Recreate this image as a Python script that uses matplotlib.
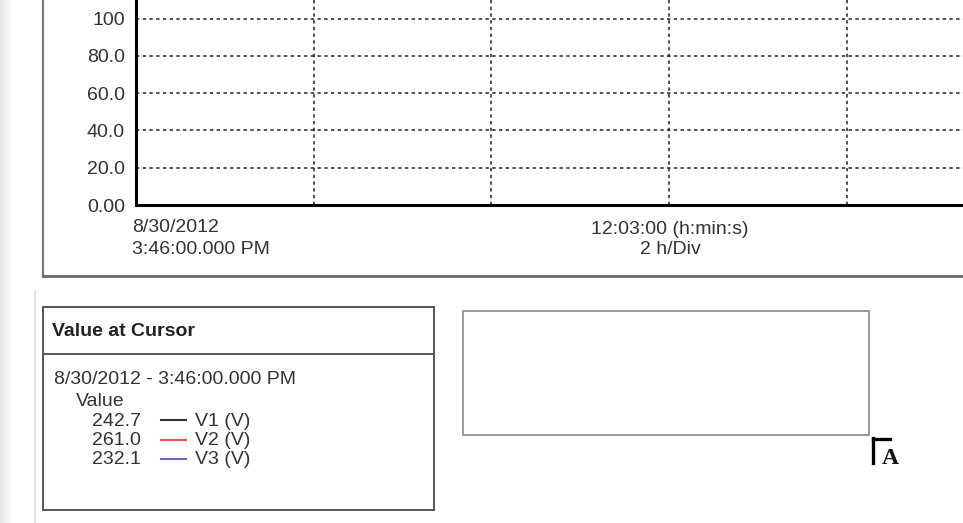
import matplotlib
matplotlib.use("Agg")
import matplotlib.pyplot as plt
from matplotlib.lines import Line2D
from matplotlib.patches import Rectangle

# ---- data ----
y_ticks = [0, 20, 40, 60, 80, 100]
y_tick_labels = ["0.00", "20.0", "40.0", "60.0", "80.0", "100"]
x_div_hours = [2, 4, 6, 8]           # 2 h/Div gridlines
x_start_label = "8/30/2012\n3:46:00.000 PM"
x_span_label = "12:03:00 (h:min:s)"
x_div_label = "2 h/Div"
cursor_time = "8/30/2012 - 3:46:00.000 PM"
series_names = ["V1 (V)", "V2 (V)", "V3 (V)"]
series_values = [242.7, 261.0, 232.1]
series_colors = ["#333333", "#e05555", "#6a6ac8"]

W, H = 963, 523
plt.rcParams['font.family'] = ['Liberation Sans', 'DejaVu Sans']
FS = 14
TXT = "#333333"
fig = plt.figure(figsize=(W / 100, H / 100), dpi=100)
fig.patch.set_facecolor("white")


def fx(x):
    return x / W


def fy(y):
    return 1 - y / H


def ftext(x, y, s, **kw):
    fig.text(fx(x), fy(y), s, **kw)


def fline(xs, ys, **kw):
    fig.add_artist(Line2D([fx(v) for v in xs], [fy(v) for v in ys],
                          transform=fig.transFigure, **kw))


def frect(x0, y0, x1, y1, **kw):
    fig.add_artist(Rectangle((fx(x0), fy(y1)), fx(x1) - fx(x0), fy(y0) - fy(y1),
                             transform=fig.transFigure, fill=False, **kw))


# left shadow
for i, a in enumerate([0.10, 0.08, 0.06, 0.045, 0.03, 0.02]):
    fig.add_artist(Rectangle((fx(i * 2), 0), fx(2), 1, transform=fig.transFigure,
                             facecolor="black", alpha=a, edgecolor="none"))

# ---- chart axes ----
ax_left, ax_bottom = 136, 205
ax = fig.add_axes([fx(ax_left), fy(ax_bottom), fx(W - ax_left), ax_bottom / H])
ax.set_facecolor("white")
px_per_div = 177.7
ax.set_xlim(0, (W - ax_left) / px_per_div * 2)
ax.set_ylim(0, 110)
ax.set_yticks(y_ticks)
ax.set_yticklabels(y_tick_labels)
ax.set_xticks(x_div_hours)
ax.set_xticklabels([])
ax.tick_params(axis="both", length=0, labelsize=FS, colors=TXT)
ax.tick_params(axis="y", pad=8)
for s in ["top", "right"]:
    ax.spines[s].set_visible(False)
for s in ["left", "bottom"]:
    ax.spines[s].set_linewidth(2.2)
    ax.spines[s].set_color("black")
for v in y_ticks[1:]:
    ax.axhline(v, color="#222222", lw=1.1, ls=(0, (2.2, 2.2)), zorder=1)
for v in x_div_hours:
    ax.axvline(v, color="#222222", lw=1.1, ls=(0, (2.2, 2.2)), zorder=1)

# x labels
l1, l2 = x_start_label.split("\n")
ftext(132, 228, l1, fontsize=FS, color=TXT, va="center", ha="left")
ftext(132, 249, l2, fontsize=FS, color=TXT, va="center", ha="left")
ftext(670, 229, x_span_label, fontsize=FS, color=TXT, va="center", ha="center")
ftext(670, 250, x_div_label, fontsize=FS, color=TXT, va="center", ha="center")

# chart panel frame
fline([43, 43], [0, 276], color="#777777", lw=1.6)
fline([43, W], [275.5, 275.5], color="#666666", lw=2.0)
fline([35, 35], [290, H], color="#dddddd", lw=1.2)

# ---- Value at Cursor box ----
frect(43, 307, 434, 510, edgecolor="#555555", lw=1.4)
fline([43, 434], [354, 354], color="#555555", lw=1.4)
ftext(52, 331, "Value at Cursor", fontsize=FS, fontweight="bold", color="#222222", va="center")
ftext(54, 379, cursor_time, fontsize=FS, color=TXT, va="center")
ftext(76, 401, "Value", fontsize=FS, color=TXT, va="center")
for i, (name, val, col) in enumerate(zip(series_names, series_values, series_colors)):
    yy = 421 + i * 19.5
    ftext(92, yy, f"{val:.1f}", fontsize=FS, color=TXT, va="center")
    fline([161, 186], [yy - 1, yy - 1], color=col, lw=1.5)
    ftext(195, yy, name, fontsize=FS, color=TXT, va="center")

# ---- empty box at right ----
frect(463, 311, 869, 435, edgecolor="#999999", lw=1.4)

# corner mark
fline([873, 873], [438, 463], color="black", lw=2.4)
fline([873, 890], [439, 439], color="black", lw=2.4)
ftext(890, 458, "A", fontsize=17, fontweight="bold", family="Liberation Serif",
      color="#111111", va="center", ha="center")

fig.savefig("out.png", dpi=100, facecolor="white")
